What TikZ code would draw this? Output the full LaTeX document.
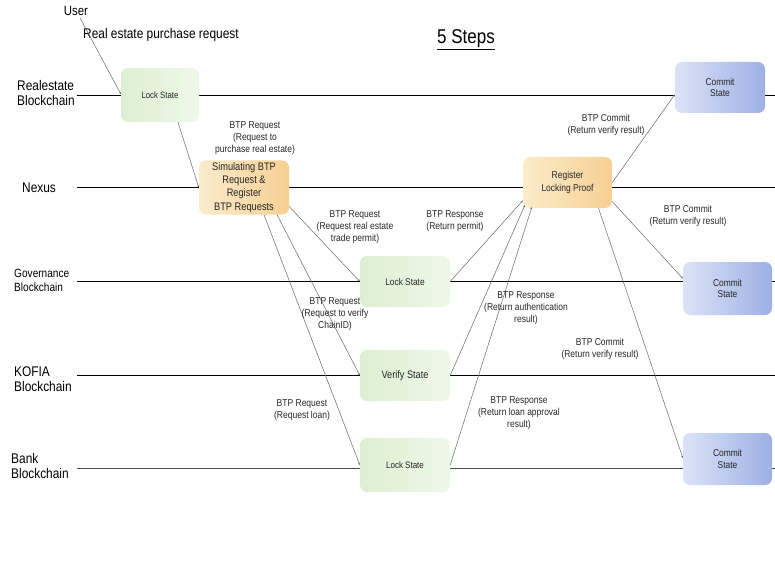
\documentclass[tikz,border=0pt]{standalone}
\usepackage{fontspec}
\setmainfont[FakeStretch=0.85]{Liberation Sans}
\usetikzlibrary{arrows.meta,calc}
\definecolor{grL}{HTML}{DDEFD1}
\definecolor{grR}{HTML}{EEF8E8}
\definecolor{orL}{HTML}{FCEBCB}
\definecolor{orR}{HTML}{F6D093}
\definecolor{blL}{HTML}{DCE3F7}
\definecolor{blR}{HTML}{9DB0E5}
\definecolor{conn}{HTML}{666666}
\tikzset{
  lane/.style={draw=black, line width=0.9pt},
  boxbase/.style={rounded corners=7pt, inner sep=2pt, align=center, text=black!85},
  greenbox/.style={boxbase, left color=grL, right color=grR, minimum width=90pt, minimum height=52pt},
  orangebox/.style={boxbase, left color=orL, right color=orR, minimum width=90pt, minimum height=52pt},
  bluebox/.style={boxbase, left color=blL, right color=blR, minimum width=90pt, minimum height=52pt, font=\fontsize{9.9}{11.7}\selectfont},
  msg/.style={align=center, font=\fontsize{10}{12}\selectfont, text=black!85, inner sep=0pt},
  lanelabel/.style={align=left, anchor=west, font=\fontsize{14}{15.5}\selectfont, inner sep=0pt},
  conn/.style={draw=conn, line width=0.5pt, -{Stealth[length=2.2pt,width=2pt]}}
}
\begin{document}
\begin{tikzpicture}[x=1pt,y=-1pt]
\useasboundingbox (0,0) rectangle (775,561);
% lane lines
\coordinate (reA) at (77,95);   \coordinate (reB) at (775,95);
\coordinate (nxA) at (77,187);  \coordinate (nxB) at (775,187);
\coordinate (gvA) at (77,281);  \coordinate (gvB) at (775,281);
\coordinate (kfA) at (77,375);  \coordinate (kfB) at (775,375);
\coordinate (bkA) at (77,468);  \coordinate (bkB) at (775,468);
\draw[lane] (reA) -- (reB);
\draw[lane] (nxA) -- (nxB);
\draw[lane] (gvA) -- (gvB);
\draw[lane] (kfA) -- (kfB);
\draw[lane, draw=black!70] (bkA) -- (bkB);
% lane labels
\node[lanelabel] (lre) at (17,93) {Realestate\\Blockchain};
\node[lanelabel] (lnx) at (22,188) {Nexus};
\node[lanelabel, font=\fontsize{11.9}{14}\selectfont] (lgv) at (14,280) {Governance\\Blockchain};
\node[lanelabel] (lkf) at (14,379) {KOFIA\\Blockchain};
\node[lanelabel] (lbk) at (11,466) {Bank\\Blockchain};
% titles
\node[font=\fontsize{13.4}{15}\selectfont, inner sep=0pt] (user) at (76,11) {User};
\node[font=\fontsize{14}{16}\selectfont, anchor=west, inner sep=0pt] (req) at (83,35) {Real estate purchase request};
\node[font=\fontsize{20}{22}\selectfont, inner sep=0pt] (title) at (466,40) {\underline{5 Steps}};
% boxes
\node[greenbox, minimum width=78pt, minimum height=54pt, font=\fontsize{9.2}{11}\selectfont] (lockre) at (160,95) {Lock State};
\node[orangebox, minimum height=53pt, font=\fontsize{10.9}{13.3}\selectfont] (sim) at (244,187.5) {Simulating BTP\\Request \&\\Register\\BTP Requests};
\node[greenbox, minimum height=51pt, font=\fontsize{9.8}{11}\selectfont] (lockgv) at (405,281.5) {Lock State};
\node[greenbox, minimum height=51pt, font=\fontsize{10.8}{12}\selectfont] (verify) at (405,375.5) {Verify State};
\node[greenbox, minimum height=54pt, font=\fontsize{9.4}{11}\selectfont] (lockbk) at (405,465) {Lock State};
\node[orangebox, minimum width=89pt, minimum height=51pt, font=\fontsize{10}{12.5}\selectfont] (reg) at (567.5,182.5) {Register\\Locking Proof};
\node[bluebox, minimum height=51pt] (ctop) at (720,87.5) {Commit\\State};
\node[bluebox, minimum width=89pt, minimum height=53pt] (cmid) at (727.5,288.5) {Commit\\State};
\node[bluebox, minimum width=89pt, minimum height=52pt] (cbot) at (727.5,459) {Commit\\State};
% connectors
\draw[conn] ([xshift=4pt,yshift=-2pt]user.south) -- ([yshift=1pt]lockre.west);
\draw[conn] ([xshift=18pt]lockre.south) -- (sim.west);
\draw[conn] ([yshift=-19pt]sim.east) -- (lockgv.west);
\draw[conn] ([xshift=33pt]sim.south) -- (verify.west);
\draw[conn] ([xshift=20pt]sim.south) -- (lockbk.west);
\draw[conn] (lockgv.east) -- ([yshift=-18pt]reg.west);
\draw[conn] (verify.east) -- ([xshift=2pt,yshift=3pt]reg.south west);
\draw[conn] (lockbk.east) -- ([xshift=9pt,yshift=1pt]reg.south west);
\draw[conn] (reg.east) -- ([yshift=-7pt]ctop.west);
\draw[conn] ([yshift=-19pt]reg.east) -- ([yshift=10pt]cmid.west);
\draw[conn] ([xshift=31pt]reg.south) -- ([yshift=1pt]cbot.west);
% messages
\node[msg] (m1) at (255,138) {BTP Request\\(Request to\\purchase real estate)};
\node[msg] (m2) at (355,227) {BTP Request\\(Request real estate\\trade permit)};
\node[msg] (m3) at (335,314) {BTP Request\\(Request to verify\\ChainID)};
\node[msg] (m4) at (302,410) {BTP Request\\(Request loan)};
\node[msg] (m5) at (455,221) {BTP Response\\(Return permit)};
\node[msg] (m6) at (526,308) {BTP Response\\(Return authentication\\result)};
\node[msg] (m7) at (519,413) {BTP Response\\(Return loan approval\\result)};
\node[msg] (m8) at (606,125) {BTP Commit\\(Return verify result)};
\node[msg] (m9) at (688,216) {BTP Commit\\(Return verify result)};
\node[msg] (m10) at (600,349) {BTP Commit\\(Return verify result)};
\end{tikzpicture}
\end{document}
